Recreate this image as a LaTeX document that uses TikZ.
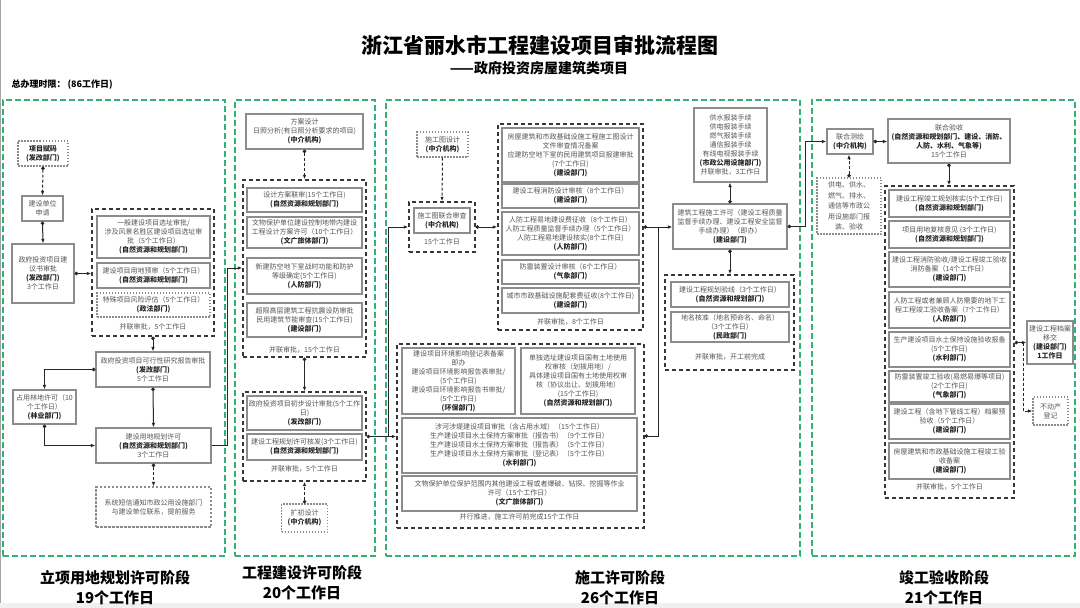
\documentclass[tikz,border=0pt]{standalone}
\usepackage{fontspec}
\setmainfont{Noto Sans CJK SC}
\usepackage{xcolor}
\usepackage{tikz}
\usetikzlibrary{arrows.meta, positioning}
\definecolor{stagegreen}{RGB}{52, 178, 118}
\definecolor{grpgray}{RGB}{55, 55, 55}
\definecolor{boxgray}{RGB}{140, 140, 140}
\definecolor{txtgray}{RGB}{85, 85, 85}
\newcommand{\dept}[1]{{\bfseries\color{black!85}#1}}

\begin{document}
\begin{tikzpicture}[
    x=1pt, y=-1pt,
    stagebox/.style={rectangle, draw=stagegreen, line width=1.5pt, dash pattern=on 6pt off 3pt},
    grp/.style={rectangle, draw=grpgray, line width=1.4pt, dash pattern=on 4pt off 3pt},
    proc/.style={rectangle, draw=boxgray, line width=1.1pt, fill=white, align=center, text=txtgray, font=\fontsize{7}{9}\selectfont, inner sep=1pt},
    dproc/.style={proc, dash pattern=on 1.5pt off 1.5pt},
    note/.style={font=\fontsize{7}{9}\selectfont, text=txtgray},
    stagelabel/.style={align=center, font=\fontsize{15}{20}\selectfont\bfseries},
    arrow/.style={-{Latex[length=4.5pt, width=3.5pt]}, line width=1pt, draw=black!85},
    darrow/.style={arrow, dash pattern=on 3pt off 2pt},
    dotarrow/.style={{Circle[length=3.5pt]}-{Latex[length=4.5pt, width=3.5pt]}, line width=1pt, draw=black!85},
    ddotarrow/.style={dotarrow, dash pattern=on 3pt off 2pt},
    dotline/.style={{Circle[length=3.5pt]}-, line width=1pt, draw=black!85}
]
    \useasboundingbox (0,0) rectangle (1080,608);
    \fill[gray!12] (0,603) rectangle (1080,608);
    \draw[gray!70, line width=1pt] (0.5,0) -- (0.5,603);

    % Title
    \node[font=\fontsize{21}{24}\selectfont\bfseries] (title) at (540,45) {浙江省丽水市工程建设项目审批流程图};
    \node[font=\fontsize{14}{16}\selectfont\bfseries] (subtitle) at (539,68) {——政府投资房屋建筑类项目};
    \node[font=\fontsize{9}{11}\selectfont\bfseries, anchor=west] (total) at (8,85) {总办理时限： (86工作日)};

    % Stages
    \node[stagebox, minimum width=222pt, minimum height=456pt] (stage1) at (114,328) {};
    \node[stagebox, minimum width=140pt, minimum height=456pt] (stage2) at (305,328) {};
    \node[stagebox, minimum width=414pt, minimum height=456pt] (stage3) at (593,328) {};
    \node[stagebox, minimum width=263pt, minimum height=456pt] (stage4) at (943.5,328) {};

    \node[stagelabel] (stage1_label) at (115,588) {立项用地规划许可阶段\\19个工作日};
    \node[stagelabel] (stage2_label) at (302,582.5) {工程建设许可阶段\\20个工作日};
    \node[stagelabel] (stage3_label) at (620,588) {施工许可阶段\\26个工作日};
    \node[stagelabel] (stage4_label) at (944,588) {竣工验收阶段\\21个工作日};

    % Stage 1
    \node[dproc, minimum width=50pt, minimum height=25pt] (fuma) at (43,153.5) {\dept{项目赋码}\\\dept{(发改部门)}};
    \node[proc, minimum width=41pt, minimum height=25pt] (shenqing) at (42.5,208.5) {建设单位\\申请};
    \node[proc, minimum width=62pt, minimum height=59pt] (jianyi) at (43,273.5) {政府投资项目建\\议书审批\\\dept{(发改部门)}\\3个工作日};
    \node[grp, minimum width=122pt, minimum height=127pt] (grp1) at (153,272.5) {};
    \node[proc, minimum width=113pt, minimum height=42pt] (xuanzhi) at (153.5,237) {一般建设项目选址审批/\\涉及风景名胜区建设项目选址审\\批（5个工作日）\\\dept{(自然资源和规划部门)}};
    \node[proc, minimum width=113pt, minimum height=25pt] (yushen) at (153.5,275.5) {建设项目用地预审（5个工作日）\\\dept{(自然资源和规划部门)}};
    \node[dproc, minimum width=113pt, minimum height=24pt] (fengxian) at (153.5,305) {特殊项目风险评估（5个工作日）\\\dept{(政法部门)}};
    \node[note] (grp1_note) at (153,327) {并联审批，5个工作日};
    \node[proc, minimum width=114pt, minimum height=35pt] (kexing) at (153,369.5) {政府投资项目可行性研究报告审批\\\dept{(发改部门)}\\5个工作日};
    \node[proc, minimum width=63pt, minimum height=34pt] (linde) at (44.5,407) {占用林地许可（10\\个工作日）\\\dept{(林业部门)}};
    \node[proc, minimum width=115pt, minimum height=35pt] (guihua) at (153.5,445.5) {建设用地规划许可\\\dept{(自然资源和规划部门)}\\3个工作日};
    \node[dproc, dash pattern=on 2.5pt off 1.5pt, minimum width=115pt, minimum height=40pt] (duanxin) at (153.5,507) {系统短信通知市政公用设施部门\\与建设单位联系，提前服务};

    \draw[ddotarrow] (fuma.south) -- (shenqing.north);
    \draw[dotarrow] (shenqing.south) -- (jianyi.north);
    \draw[dotarrow] (jianyi.east) -- (jianyi.east -| grp1.west);
    \draw[dotarrow] (grp1.south) -- (kexing.north);
    \draw[dotarrow] (kexing.west) -| (linde.north);
    \draw[dotarrow] (linde.south) |- (guihua.west);
    \draw[dotarrow] (kexing.south) -- (guihua.north);
    \draw[ddotarrow] (guihua.south) -- (duanxin.north);

    % Stage 2
    \coordinate (turn1) at (227,268);
    \node[proc, minimum width=117pt, minimum height=35pt] (fangan) at (304.5,131.5) {方案设计\\日照分析(有日照分析要求的项目)\\\dept{(中介机构)}};
    \node[grp, minimum width=123pt, minimum height=177pt] (grp2) at (304.5,268.5) {};
    \node[proc, minimum width=115pt, minimum height=24pt] (lianshen) at (304.5,200) {设计方案联审(15个工作日)\\\dept{(自然资源和规划部门)}};
    \node[proc, minimum width=115pt, minimum height=31pt] (wenwu) at (304.5,232.5) {文物保护单位建设控制地带内建设\\工程设计方案许可（10个工作日）\\\dept{(文广旅体部门)}};
    \node[proc, minimum width=115pt, minimum height=36pt] (renfang) at (304.5,276) {新建防空地下室战时功能和防护\\等级确定(5个工作日)\\\dept{(人防部门)}};
    \node[proc, minimum width=115pt, minimum height=34pt] (kangzhen) at (304.5,320) {超限高层建筑工程抗震设防审批\\民用建筑节能审查(15个工作日)\\\dept{(建设部门)}};
    \node[note] (grp2_note) at (304.5,350) {并联审批，15个工作日};
    \node[grp, minimum width=123pt, minimum height=89pt] (grp3) at (304.5,436.5) {};
    \node[proc, minimum width=115pt, minimum height=34pt] (chubu) at (304.5,413) {政府投资项目初步设计审批(5个工作\\日)\\\dept{(发改部门)}};
    \node[proc, minimum width=115pt, minimum height=26pt] (hefa) at (304.5,447) {建设工程规划许可核发(3个工作日)\\\dept{(自然资源和规划部门)}};
    \node[note] (grp3_note) at (304.5,469) {并联审批，5个工作日};
    \node[dproc, minimum width=46pt, minimum height=28pt] (kuochu) at (304.5,518) {扩初设计\\\dept{(中介机构)}};

    \draw[arrow] (guihua.east) -| (turn1) -- (turn1 -| grp2.west);
    \draw[ddotarrow] (fangan.south) -- (grp2.north);
    \draw[dotarrow] (grp2.south) -- (grp3.north);
    \draw[ddotarrow] (kuochu.north) -- (grp3.south);

    % Stage 3
    \coordinate (turn2) at (388,436.5);
    \coordinate (turn3) at (658,227);
    \node[dproc, minimum width=51pt, minimum height=25pt] (shigongtu) at (442.5,144.5) {施工图设计\\\dept{(中介机构)}};
    \node[grp, minimum width=66pt, minimum height=50pt] (grp4) at (442,227) {};
    \node[proc, minimum width=56pt, minimum height=25pt] (lianhe) at (442,220.5) {施工图联合审查\\\dept{(中介机构)}};
    \node[note] (grp4_note) at (442,242) {15个工作日};
    \node[grp, minimum width=145pt, minimum height=206pt] (grp5) at (570.5,227) {};
    \node[proc, minimum width=137pt, minimum height=54pt] (beian) at (570.5,155) {房屋建筑和市政基础设施工程施工图设计\\文件审查情况备案\\应建防空地下室的民用建筑项目报建审批\\(7个工作日)\\\dept{(建设部门)}};
    \node[proc, minimum width=137pt, minimum height=24pt] (xiaofang) at (570.5,196) {建设工程消防设计审核（8个工作日）\\\dept{(建设部门)}};
    \node[proc, minimum width=137pt, minimum height=43pt] (yidi) at (570.5,233.5) {人防工程易地建设费征收（8个工作日）\\人防工程质量监督手续办理（5个工作日）\\人防工程易地建设核实(8个工作日)\\\dept{(人防部门)}};
    \node[proc, minimum width=137pt, minimum height=24pt] (fanglei) at (570.5,272) {防雷装置设计审核（6个工作日）\\\dept{(气象部门)}};
    \node[proc, minimum width=137pt, minimum height=25pt] (peitao) at (570.5,300.5) {城市市政基础设施配套费征收(8个工作日)\\\dept{(建设部门)}};
    \node[note] (grp5_note) at (570.5,322) {并联审批，8个工作日};
    \node[grp, minimum width=247pt, minimum height=184pt] (grp6) at (520.5,436) {};
    \node[proc, minimum width=113pt, minimum height=66pt] (huanbao) at (458.5,381) {建设项目环境影响登记表备案\\即办\\建设项目环境影响报告表审批/\\(5个工作日)\\建设项目环境影响报告书审批/\\(5个工作日)\\\dept{(环保部门)}};
    \node[proc, minimum width=114pt, minimum height=66pt] (tudi) at (578,381) {单独选址建设项目国有土地使用\\权审核（划拨用地）/\\具体建设项目国有土地使用权审\\核（协议出让、划拨用地）\\(15个工作日)\\\dept{(自然资源和规划部门)}};
    \node[proc, minimum width=235pt, minimum height=55pt] (shuili) at (519.5,445.5) {涉河涉堤建设项目审批（含占用水域）（15个工作日）\\生产建设项目水土保持方案审批（报告书）（9个工作日）\\生产建设项目水土保持方案审批（报告表）（5个工作日）\\生产建设项目水土保持方案审批（登记表）（5个工作日）\\\dept{(水利部门)}};
    \node[proc, minimum width=235pt, minimum height=35pt] (baopo) at (519.5,493.5) {文物保护单位保护范围内其他建设工程或者爆破、钻探、挖掘等作业\\许可（15个工作日）\\\dept{(文广旅体部门)}};
    \node[note] (grp6_note) at (519.5,517) {并行推进，施工许可前完成15个工作日};
    \node[proc, minimum width=73pt, minimum height=74pt] (baozhuang) at (730.5,145) {供水报装手续\\供电报装手续\\燃气报装手续\\通信报装手续\\有线电视报装手续\\\dept{(市政公用设施部门)}\\并联审批，3工作日};
    \node[proc, minimum width=114pt, minimum height=45pt] (shigong) at (730,226.5) {建筑工程施工许可（建设工程质量\\监督手续办理、建设工程安全监督\\手续办理）（即办）\\\dept{(建设部门)}};
    \node[grp, minimum width=129pt, minimum height=95pt] (grp7) at (729.5,322.5) {};
    \node[proc, minimum width=118pt, minimum height=25pt] (yanxian) at (730,294.5) {建设工程规划验线（3个工作日）\\\dept{(自然资源和规划部门)}};
    \node[proc, minimum width=118pt, minimum height=30pt] (diming) at (730,327) {地名核准（地名预命名、命名）\\（3个工作日）\\\dept{(民政部门)}};
    \node[note] (grp7_note) at (730,357) {并联审批，开工前完成};

    \draw[dotarrow] (grp3.east) -- (grp3.east -| grp6.west);
    \draw[arrow] (turn2) |- (grp4.west);
    \draw[darrow] (shigongtu.south) -- (grp4.north);
    \draw[dotarrow] (grp4.east) -- (grp5.west);
    \draw[dotarrow] (grp5.east) -- (grp5.east -| shigong.west);
    \draw[dotline] (grp6.east) -| (turn3);
    \draw[dotarrow] (shigong.north) -- (shigong.north |- baozhuang.south);
    \draw[dotarrow] (shigong.south) -- (shigong.south |- grp7.north);

    % Stage 4
    \coordinate (turn4) at (805,226.5);
    \coordinate (turn5) at (1023,342.5);
    \node[proc, minimum width=46pt, minimum height=25pt] (cehui) at (850,141.5) {联合测绘\\\dept{(中介机构)}};
    \node[proc, minimum width=122pt, minimum height=44pt] (yanshou) at (949,141) {联合验收\\\dept{(自然资源和规划部门、建设、消防、}\\\dept{人防、水利、气象等)}\\15个工作日};
    \node[dproc, minimum width=64pt, minimum height=56pt, font=\fontsize{7}{10.5}\selectfont] (gongdian) at (849,206) {供电、供水、\\燃气、排水、\\通信等市政公\\用设施部门报\\装、验收};
    \node[grp, minimum width=129pt, minimum height=312pt] (grp8) at (949.5,342) {};
    \node[proc, minimum width=121pt, minimum height=27pt] (hesh) at (949.5,203.5) {建设工程竣工规划核实(5个工作日)\\\dept{(自然资源和规划部门)}};
    \node[proc, minimum width=121pt, minimum height=27pt] (fuhe) at (949.5,234.5) {项目用地复核意见 (3个工作日)\\\dept{(自然资源和规划部门)}};
    \node[proc, minimum width=121pt, minimum height=35pt] (xfys) at (949.5,269.5) {建设工程消防验收/建设工程竣工验收\\消防备案（14个工作日）\\\dept{(建设部门)}};
    \node[proc, minimum width=121pt, minimum height=36pt] (rfys) at (949.5,310) {人防工程或者兼顾人防需要的地下工\\程工程竣工验收备案（7个工作日）\\\dept{(人防部门)}};
    \node[proc, minimum width=121pt, minimum height=35pt] (shuibao) at (949.5,349.5) {生产建设项目水土保持设施验收报备\\(5个工作日)\\\dept{(水利部门)}};
    \node[proc, minimum width=121pt, minimum height=31pt] (flys) at (949.5,386.5) {防雷装置竣工验收(易燃易爆等项目)\\(2个工作日)\\\dept{(气象部门)}};
    \node[proc, minimum width=121pt, minimum height=35pt] (dangan) at (949.5,421.5) {建设工程（含地下管线工程）档案预\\验收（5个工作日）\\\dept{(建设部门)}};
    \node[proc, minimum width=121pt, minimum height=36pt] (jgba) at (949.5,461) {房屋建筑和市政基础设施工程竣工验\\收备案\\\dept{(建设部门)}};
    \node[note] (grp8_note) at (949.5,487) {并联审批，5个工作日};
    \node[proc, minimum width=46pt, minimum height=43pt] (yijiao) at (1050,342.5) {建设工程档案\\移交\\\dept{(建设部门)}\\\dept{1工作日}};
    \node[dproc, minimum width=35pt, minimum height=28pt] (budong) at (1050.5,411) {不动产\\登记};

    \draw[dotarrow] (shigong.east) -- (turn4) |- (cehui.west);
    \draw[dotarrow] (cehui.east) -- (cehui.east -| yanshou.west);
    \draw[ddotarrow] (gongdian.north) -- (gongdian.north |- cehui.south);
    \draw[dotarrow] (yanshou.south) -- (yanshou.south |- grp8.north);
    \draw[dotarrow] (grp8.east |- yijiao.west) -- (yijiao.west);
    \draw[darrow] (turn5) |- (budong.west);
\end{tikzpicture}
\end{document}
